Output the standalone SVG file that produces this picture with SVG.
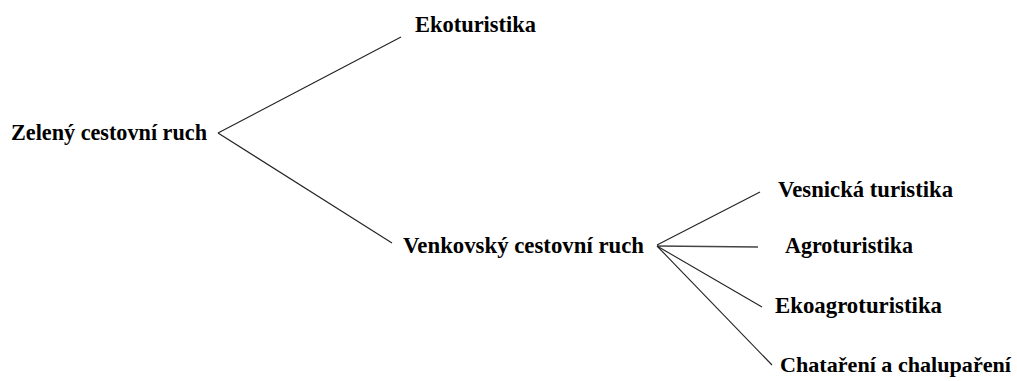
<svg xmlns="http://www.w3.org/2000/svg" width="1017" height="381" viewBox="0 0 1017 381">
<style>
.t{font-family:"Liberation Serif","Times New Roman",serif;font-weight:bold;font-size:23px;fill:#000}
.c line{stroke:#222;stroke-width:1.1;fill:none}
</style>
<rect width="1017" height="381" fill="#fff"/>
<g class="c" id="connectors">
<line x1="218" y1="133" x2="401" y2="37"/>
<line x1="218" y1="133" x2="392" y2="243"/>
<line x1="657" y1="245" x2="760" y2="192"/>
<line x1="657" y1="246" x2="758" y2="247" style="stroke-width:1.6;stroke:#444"/>
<line x1="657" y1="246" x2="762" y2="307"/>
<line x1="657" y1="246" x2="772" y2="365"/>
</g>
<g id="n-zeleny"><text class="t" x="11" y="140" textLength="196" lengthAdjust="spacingAndGlyphs">Zelený cestovní ruch</text></g>
<g id="n-eko"><text class="t" x="415" y="32" textLength="121" lengthAdjust="spacingAndGlyphs">Ekoturistika</text></g>
<g id="n-venkov"><text class="t" x="403" y="253" textLength="241" lengthAdjust="spacingAndGlyphs">Venkovský cestovní ruch</text></g>
<g id="n-vesnicka"><text class="t" x="778" y="197" textLength="175" lengthAdjust="spacingAndGlyphs">Vesnická turistika</text></g>
<g id="n-agro"><text class="t" x="785" y="253" textLength="128" lengthAdjust="spacingAndGlyphs">Agroturistika</text></g>
<g id="n-ekoagro"><text class="t" x="775" y="313" textLength="167" lengthAdjust="spacingAndGlyphs">Ekoagroturistika</text></g>
<g id="n-chata"><text class="t" x="780" y="372" style="font-size:22px" textLength="231" lengthAdjust="spacingAndGlyphs">Chataření a chalupaření</text></g>
</svg>
